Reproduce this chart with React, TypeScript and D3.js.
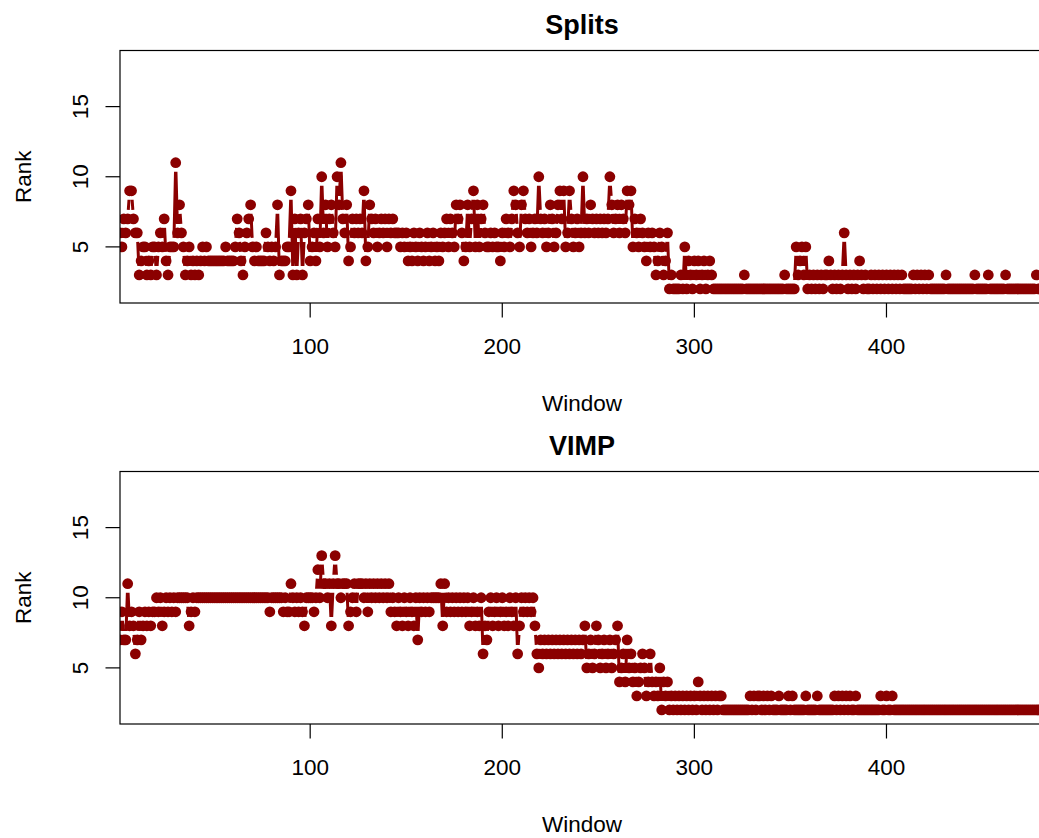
import React from "react";
import * as d3 from "d3";

// Rank per window (windows 1..482)
const splitsRank: number[] = [
  6,5,7,6,7,9,9,7,6,6, 3,4,5,5,3,4,3,5,5,3, 5,6,5,7,4,3,5,5,5,11, 6,8,6,5,3,4,5,3,4,3,
  4,3,4,5,4,5,4,4,4,4, 4,4,4,4,4,5,4,4,4,4, 5,7,6,4,3,5,6,7,8,5, 4,5,4,4,4,4,6,5,4,5,
  4,5,8,3,4,4,4,5,5,9, 3,7,3,6,7,3,6,7,8,4, 5,6,4,7,5,10,6,8,5,7, 8,6,5,10,8,11,7,6,8,4,
  5,7,6,7,6,7,6,9,4,5, 8,7,6,7,5,6,7,6,7,5, 7,6,7,6,6,6,5,6,5,6, 4,5,4,6,5,4,6,5,4,5,
  6,4,5,6,4,5,4,6,5,6, 7,5,7,6,5,8,7,8,6,4, 5,8,5,7,9,5,8,5,7,8, 6,5,5,6,5,6,5,5,4,6,
  5,7,6,5,7,9,8,6,5,8, 9,7,6,7,5,6,7,6,10,7, 6,7,5,6,8,7,5,6,8,9, 7,9,5,6,9,7,5,6,7,5,
  6,10,6,7,6,8,7,6,7,6, 7,6,7,6,7,10,8,6,7,8, 6,8,7,6,9,8,9,5,7,6, 5,7,6,5,4,6,5,6,5,3,
  4,6,5,3,4,6,2,3,2,2, 2,2,3,2,5,2,4,3,2,4, 3,4,2,3,4,2,3,4,3,2, 2,2,2,2,2,2,2,2,2,2,
  2,2,2,2,2,3,2,2,2,2, 2,2,2,2,2,2,2,2,2,2, 2,2,2,2,2,2,3,2,2,2, 2,2,5,3,4,5,3,5,2,3,
  2,3,2,3,2,3,2,3,3,4, 3,2,3,2,3,2,3,6,3,2, 3,2,3,2,3,4,3,2,3,2, 2,3,2,3,2,3,2,3,2,3,
  2,3,2,3,2,3,2,3,2,2, 2,2,2,3,2,3,2,3,2,3, 2,3,2,2,2,2,2,2,2,2, 3,2,2,2,2,2,2,2,2,2,
  2,2,2,2,2,3,2,2,2,2, 2,2,3,2,2,2,2,2,2,2, 2,3,2,2,2,2,2,2,2,2, 2,2,2,2,2,2,2,3,2,2,
  2,2,
];

const vimpRank: number[] = [
  7,9,7,7,11,8,9,8,6,7, 9,7,8,9,8,9,8,9,9,10, 9,10,8,9,10,9,10,9,10,9, 10,10,10,10,10,10,8,9,10,9,
  10,10,10,10,10,10,10,10,10,10, 10,10,10,10,10,10,10,10,10,10, 10,10,10,10,10,10,10,10,10,10, 10,10,10,10,10,10,10,10,9,10,
  10,10,10,10,10,9,10,9,9,11, 10,9,10,9,10,9,8,10,10,10, 10,9,10,12,10,13,11,11,10,11, 8,11,13,11,11,10,11,11,11,8,
  9,10,11,9,11,11,11,10,11,9, 11,10,11,10,11,10,11,10,11,10, 11,9,10,9,8,10,9,8,10,9, 8,10,9,8,10,7,10,9,10,9,
  10,9,10,10,10,10,10,11,8,11, 9,10,9,10,9,10,9,10,9,10, 9,10,8,9,10,8,9,8,10,6, 8,7,9,10,8,9,10,8,9,10,
  8,9,8,10,9,8,10,6,8,10, 9,10,9,10,9,10,8,6,5,7, 6,7,6,7,6,7,6,7,6,7, 6,7,6,7,6,7,6,7,6,7,
  6,7,8,5,6,7,5,6,8,7, 5,6,7,5,6,7,5,6,7,8, 4,5,6,4,7,5,6,4,5,3, 4,5,6,5,3,4,6,4,3,4,
  3,5,2,4,3,4,2,3,2,3, 2,3,2,3,2,3,2,3,2,3, 2,4,3,2,3,2,3,2,3,2, 3,2,3,3,2,2,2,2,2,2,
  2,2,2,2,2,2,2,2,3,2, 3,2,3,3,2,3,2,3,2,3, 2,2,2,3,2,2,2,2,3,2, 3,2,2,2,2,2,2,3,2,2,
  2,2,2,3,2,2,2,2,2,2, 2,2,3,2,3,2,3,2,3,2, 3,2,2,3,2,2,2,2,2,2, 2,2,2,2,2,2,3,2,2,3,
  2,2,3,2,2,2,2,2,2,2, 2,2,2,2,2,2,2,2,2,2, 2,2,2,2,2,2,2,2,2,2, 2,2,2,2,2,2,2,2,2,2,
  2,2,2,2,2,2,2,2,2,2, 2,2,2,2,2,2,2,2,2,2, 2,2,2,2,2,2,2,2,2,2, 2,2,2,2,2,2,2,2,2,2,
  2,2,
];

const xTicks = [100, 200, 300, 400];
const yTicks = [5, 10, 15];
const panelTitles = ["Splits", "VIMP"];
const xLabel = "Window";
const yLabel = "Rank";

const FONT = "'Liberation Sans', Arial, Helvetica, sans-serif";
const COLOR = "#8B0000";
const W = 1039;
const H = 838;

function Panel({ values, title, offset, id }: { values: number[]; title: string; offset: number; id: string }) {
  const left = 120;
  const right = 1044;
  const top = 50.5 + offset;
  const bottom = 303 + offset;
  const x = d3.scaleLinear().domain([1, values.length]).range([left, right]);
  const y = d3.scaleLinear().domain([1, 19]).range([bottom, top]);
  const gap = 9;

  const segs: string[] = [];
  for (let i = 1; i < values.length; i++) {
    const x0 = x(i), y0 = y(values[i - 1]);
    const x1 = x(i + 1), y1 = y(values[i]);
    const dist = Math.hypot(x1 - x0, y1 - y0);
    if (dist > 2 * gap) {
      const f = gap / dist;
      const ax = x0 + f * (x1 - x0), ay = y0 + f * (y1 - y0);
      const bx = x1 - f * (x1 - x0), by = y1 - f * (y1 - y0);
      segs.push(`M${ax},${ay}L${bx},${by}`);
    }
  }
  const cx = (left + right) / 2;
  const cy = (top + bottom) / 2;

  return (
    <g>
      <defs>
        <clipPath id={id}>
          <rect x={left} y={top} width={right - left} height={bottom - top} />
        </clipPath>
      </defs>
      <g clipPath={`url(#${id})`}>
        <path d={segs.join("")} stroke={COLOR} strokeWidth={3} fill="none" />
        {values.map((v, i) => (
          <circle key={i} cx={x(i + 1)} cy={y(v)} r={5.4} fill={COLOR} />
        ))}
      </g>
      <rect x={left} y={top} width={right - left} height={bottom - top} fill="none" stroke="#000" strokeWidth={1.2} />
      {xTicks.map((t) => (
        <g key={t}>
          <line x1={x(t)} x2={x(t)} y1={bottom} y2={bottom + 14.5} stroke="#000" strokeWidth={1.2} />
          <text x={x(t)} y={bottom + 51} textAnchor="middle" fontSize={22.5} fontFamily={FONT} fill="#000">{t}</text>
        </g>
      ))}
      {yTicks.map((t) => (
        <g key={t}>
          <line x1={left} x2={left - 14.5} y1={y(t)} y2={y(t)} stroke="#000" strokeWidth={1.2} />
          <text transform={`translate(${left - 32},${y(t)}) rotate(-90)`} textAnchor="middle" fontSize={22.5} fontFamily={FONT} fill="#000">{t}</text>
        </g>
      ))}
      <text x={cx} y={top - 17} textAnchor="middle" fontSize={27} fontWeight="bold" fontFamily={FONT} fill="#000">{title}</text>
      <text x={cx} y={bottom + 108} textAnchor="middle" fontSize={22.5} fontFamily={FONT} fill="#000">{xLabel}</text>
      <text transform={`translate(${30.5},${cy}) rotate(-90)`} textAnchor="middle" fontSize={22.5} fontFamily={FONT} fill="#000">{yLabel}</text>
    </g>
  );
}

export default function App() {
  return (
    <svg width={W} height={H} style={{ position: "absolute", left: 0, top: 0, background: "#fff" }}>
      <rect x={0} y={0} width={W} height={H} fill="#fff" />
      <Panel values={splitsRank} title={panelTitles[0]} offset={0} id="clipA" />
      <Panel values={vimpRank} title={panelTitles[1]} offset={421} id="clipB" />
    </svg>
  );
}
